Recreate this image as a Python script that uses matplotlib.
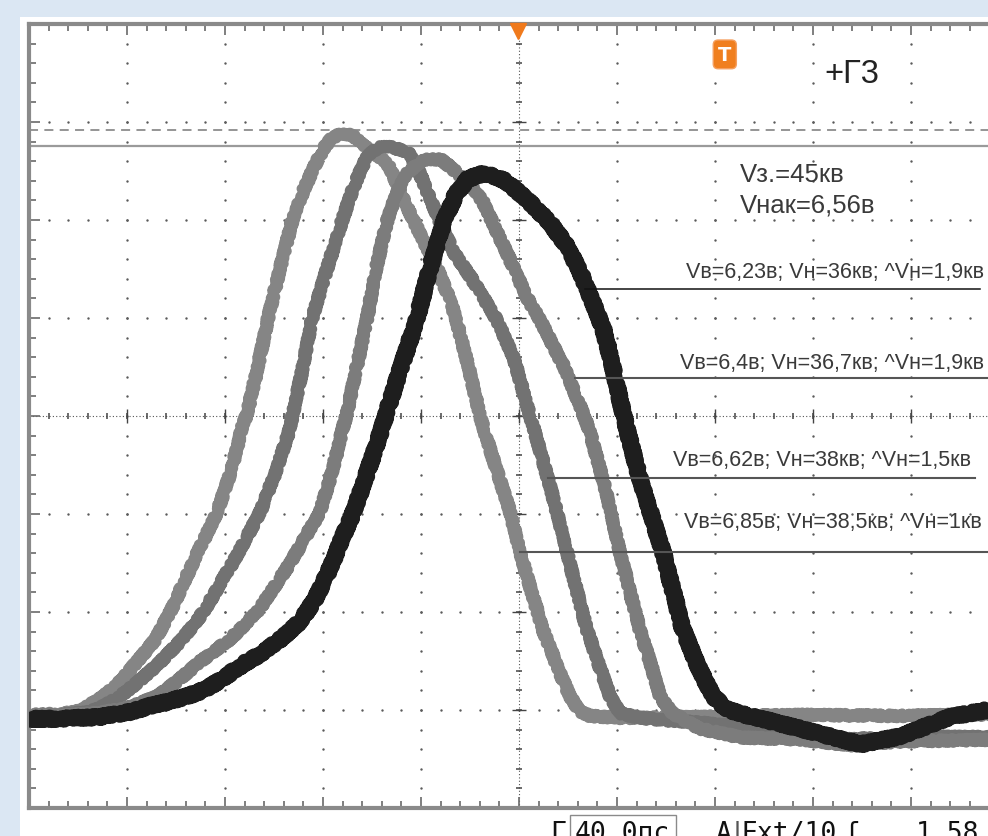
import numpy as np
import matplotlib
matplotlib.use("Agg")
import matplotlib.pyplot as plt
from matplotlib import font_manager
from matplotlib.patches import Rectangle

# screen units: 10 div across, 8 div high, v = 0 on the centre line
t_a = [0.00, 0.32, 0.52, 0.76, 0.93, 1.10, 1.29, 1.44, 1.69, 1.92, 2.07, 2.17, 2.22, 2.33, 2.44,
       2.56, 2.69, 2.80, 2.90, 3.00, 3.09, 3.17, 3.30, 3.38, 3.58, 3.68, 3.86, 3.99, 4.16, 4.30,
       4.37, 4.49, 4.60, 4.67, 4.91, 5.01, 5.24, 5.40, 5.52, 5.62, 5.72, 6.03, 6.85, 7.87, 8.89, 10.0]
v_a = [-3.05, -3.04, -3.01, -2.86, -2.71, -2.51, -2.28, -2.00, -1.46, -0.98, -0.54, -0.13, 0.01, 0.48, 1.00,
       1.50, 2.01, 2.30, 2.52, 2.72, 2.84, 2.87, 2.87, 2.79, 2.64, 2.54, 2.13, 1.86, 1.52, 1.17,
       0.94, 0.48, 0.01, -0.23, -0.98, -1.39, -2.17, -2.58, -2.86, -3.01, -3.06, -3.08, -3.07, -3.05, -3.06, -3.04]

t_b = [0.00, 0.32, 0.62, 0.78, 0.93, 1.13, 1.34, 1.56, 1.78, 2.10, 2.36, 2.53, 2.66, 2.69, 2.79,
       2.89, 3.04, 3.20, 3.30, 3.38, 3.46, 3.56, 3.68, 3.86, 3.96, 4.06, 4.19, 4.33, 4.53, 4.78,
       4.95, 5.11, 5.18, 5.34, 5.49, 5.69, 5.83, 5.93, 6.03, 6.23, 6.85, 7.66, 8.38, 9.09, 10.0]
v_b = [-3.06, -3.05, -3.02, -2.95, -2.86, -2.70, -2.51, -2.28, -2.00, -1.46, -0.98, -0.54, -0.13, 0.01, 0.48,
       1.00, 1.50, 2.01, 2.30, 2.50, 2.66, 2.74, 2.75, 2.70, 2.54, 2.30, 1.99, 1.68, 1.38, 0.97,
       0.58, 0.01, -0.23, -0.80, -1.39, -2.17, -2.58, -2.86, -3.03, -3.08, -3.13, -3.21, -3.30, -3.27, -3.28]

t_c = [0.00, 0.42, 0.72, 1.03, 1.31, 1.52, 1.74, 2.05, 2.33, 2.66, 2.97, 3.10, 3.20, 3.24, 3.34,
       3.45, 3.54, 3.66, 3.77, 3.86, 3.97, 4.08, 4.20, 4.30, 4.50, 4.63, 4.86, 5.08, 5.22, 5.47,
       5.66, 5.72, 5.88, 6.03, 6.23, 6.36, 6.44, 6.56, 6.85, 7.26, 7.87, 8.38, 8.89, 10.0]
v_c = [-3.06, -3.05, -3.03, -2.97, -2.86, -2.70, -2.51, -2.28, -2.00, -1.51, -0.98, -0.54, -0.13, 0.01, 0.48,
       1.00, 1.50, 2.01, 2.32, 2.48, 2.58, 2.62, 2.62, 2.54, 2.37, 2.19, 1.70, 1.21, 0.97, 0.48,
       0.01, -0.15, -0.74, -1.39, -2.17, -2.58, -2.86, -3.03, -3.19, -3.28, -3.30, -3.36, -3.32, -3.30]

t_d = [0.00, 0.32, 0.72, 1.03, 1.23, 1.44, 1.61, 1.80, 2.00, 2.22, 2.41, 2.61, 2.77, 2.92, 3.07,
       3.19, 3.31, 3.43, 3.53, 3.60, 3.64, 3.79, 3.95, 4.09, 4.24, 4.36, 4.48, 4.65, 4.86, 5.08,
       5.30, 5.47, 5.62, 5.74, 5.86, 5.95, 6.03, 6.10, 6.23, 6.47, 6.67, 6.83, 6.98, 7.12,
       7.31, 7.87, 8.48, 8.89, 9.40, 10.0]
v_d = [-3.09, -3.09, -3.07, -3.02, -2.96, -2.91, -2.86, -2.79, -2.66, -2.51, -2.40, -2.24, -2.09, -1.87, -1.56,
       -1.26, -0.98, -0.64, -0.34, -0.13, 0.01, 0.48, 0.97, 1.50, 2.01, 2.27, 2.42, 2.48, 2.40, 2.21,
       1.99, 1.76, 1.48, 1.19, 0.89, 0.53, 0.17, -0.13, -0.63, -1.39, -2.17, -2.56, -2.86, -2.99,
       -3.05, -3.19, -3.35, -3.27, -3.07, -2.96]

trace_colors = ['#858585', '#727272', '#7c7c7c', '#1e1e1e']
trace_widths = [7.5, 7.5, 7.5, 10.0]

# marker lines with their readings (top one belongs to the dark trace)
label_texts = ['Vв=6,23в; Vн=36кв; ^Vн=1,9кв',
               'Vв=6,4в; Vн=36,7кв; ^Vн=1,9кв',
               'Vв=6,62в; Vн=38кв; ^Vн=1,5кв',
               'Vв=6,85в; Vн=38,5кв; ^Vн=1кв']
label_level = [1.30, 0.39, -0.63, -1.39]
label_start = [5.67, 5.57, 5.30, 5.01]
label_end = [9.70, 10.0, 9.65, 10.0]
label_text_y = [1.47, 0.55, -0.44, -1.08]
label_text_x = [9.74, 9.74, 9.61, 9.72]

cursor_dashed = 2.92
cursor_solid = 2.755
trigger_t = 4.99

names = {f.name for f in font_manager.fontManager.ttflist}
if 'Liberation Sans Narrow' in names:
    fam = ['Liberation Sans Narrow', 'DejaVu Sans']
    lab_fs, info_fs, g3_fs = 17.5, 21, 27
else:
    fam = ['Liberation Sans', 'DejaVu Sans']
    lab_fs, info_fs, g3_fs = 15.5, 18.5, 23.5

fig = plt.figure(figsize=(9.88, 8.37), dpi=100, facecolor='#dbe7f3')
fig.add_artist(Rectangle((20 / 988, 0), 1, 1 - 18 / 837, transform=fig.transFigure,
                         facecolor='white', edgecolor='none', zorder=-5))
ax = fig.add_axes([29 / 988, 28 / 837, 980 / 988, 784 / 837])
ax.set_xlim(0, 10)
ax.set_ylim(-4, 4)
ax.set_facecolor('white')

# frame with ticks
for s in ax.spines.values():
    s.set_color('#8a8a8a')
    s.set_linewidth(3)
ax.set_xticks(np.arange(0, 10.01, 1))
ax.set_yticks(np.arange(-4, 4.01, 1))
ax.set_xticks(np.arange(0, 10.01, 0.2), minor=True)
ax.set_yticks(np.arange(-4, 4.01, 0.2), minor=True)
ax.tick_params(which='both', direction='in', top=True, right=True, bottom=True, left=True,
               labelbottom=False, labelleft=False, color='#6a6a6a')
ax.tick_params(which='major', length=8, width=1.2)
ax.tick_params(which='minor', length=5, width=1.2)

# dotted graticule
steps = np.arange(-4, 4.01, 0.2)
for gx in range(1, 10):
    if gx != 5:
        ax.scatter(np.full(steps.size, gx), steps, s=3, color='#5a5a5a', lw=0, zorder=1)
hsteps = np.arange(0, 10.01, 0.2)
for gy in range(-3, 4):
    if gy != 0:
        ax.scatter(hsteps, np.full(hsteps.size, gy), s=3, color='#5a5a5a', lw=0, zorder=1)

# centre cross with ticks
ax.axhline(0, color='#555555', lw=0.8, ls=(0, (1, 2)), zorder=1)
ax.axvline(5, color='#555555', lw=0.8, ls=(0, (1, 2)), zorder=1)
ax.plot(hsteps, np.zeros(hsteps.size), ls='none', marker='|', ms=5, mew=1.1, color='#444444', zorder=1)
ax.plot(np.full(steps.size, 5), steps, ls='none', marker='_', ms=5, mew=1.1, color='#444444', zorder=1)
ax.plot(np.arange(0, 11), np.zeros(11), ls='none', marker='|', ms=10, mew=1.0, color='#444444', zorder=1)
ax.plot(np.full(9, 5), np.arange(-4, 5), ls='none', marker='_', ms=10, mew=1.0, color='#444444', zorder=1)

# cursors
ax.axhline(cursor_dashed, color='#8c8c8c', lw=1.3, ls=(0, (5, 3.5)), zorder=1.5)
ax.axhline(cursor_solid, color='#9a9a9a', lw=1.6, zorder=1.5)

# traces
for t, v, c, w in zip([t_a, t_b, t_c, t_d], [v_a, v_b, v_c, v_d], trace_colors, trace_widths):
    ln, = ax.plot(t, v, color=c, lw=w, solid_joinstyle='round', solid_capstyle='round', zorder=3)
    ln.set_sketch_params(scale=2.3, length=2.0, randomness=3)

# marker lines and readings
for i, txt in enumerate(label_texts):
    lc = '#111111' if i == 0 else '#555555'
    lw = 1.1 if i == 0 else 1.5
    ax.plot([label_start[i], label_end[i]], [label_level[i]] * 2, color=lc, lw=lw, zorder=4)
    ax.text(label_text_x[i], label_text_y[i], txt, ha='right', va='center', fontsize=lab_fs,
            family=fam, color='#3a3a3a', zorder=5)

ax.text(7.25, 2.47, 'Vз.=45кв', ha='left', va='center', fontsize=info_fs, family=fam, color='#3a3a3a')
ax.text(7.25, 2.16, 'Vнак=6,56в', ha='left', va='center', fontsize=info_fs, family=fam, color='#3a3a3a')
ax.text(8.12, 3.49, '+Г3', ha='left', va='center', fontsize=g3_fs, family=fam, color='#222222')

# trigger marks
ax.plot([trigger_t], [3.93], marker='v', ms=11, color='#f07a1c', mec='#f07a1c', clip_on=False, zorder=6)
ax.text(7.10, 3.69, 'T', ha='center', va='center', fontsize=14, fontweight='bold', color='white',
        family=['DejaVu Sans'], zorder=6,
        bbox=dict(boxstyle='round,pad=0.25', facecolor='#f07f1f', edgecolor='#f5a060', lw=1.0))

# status line, cut by the bottom edge
mono = ['DejaVu Sans Mono']
ytop = 1 - 821 / 837
fig.text(550 / 988, ytop, 'Г', ha='left', va='top', fontsize=19, family=mono, color='#111111')
fig.text(575 / 988, ytop, '40.0пс', ha='left', va='top', fontsize=19, family=mono, color='#111111',
         bbox=dict(boxstyle='square,pad=0.2', facecolor='none', edgecolor='#8a8a8a', lw=1.0))
fig.text(716 / 988, ytop, 'A', ha='left', va='top', fontsize=19, family=mono, color='#111111')
fig.text(733 / 988, ytop, '|', ha='left', va='top', fontsize=19, family=['DejaVu Sans'], color='#555555')
fig.text(741 / 988, ytop, 'Ext/10', ha='left', va='top', fontsize=19, family=mono, color='#111111')
fig.text(843 / 988, ytop, 'ʃ', ha='left', va='top', fontsize=19, family=mono, color='#111111')
fig.text(916 / 988, ytop, '1.58', ha='left', va='top', fontsize=19, family=mono, color='#111111')

fig.savefig('out.png', dpi=100, facecolor=fig.get_facecolor())
